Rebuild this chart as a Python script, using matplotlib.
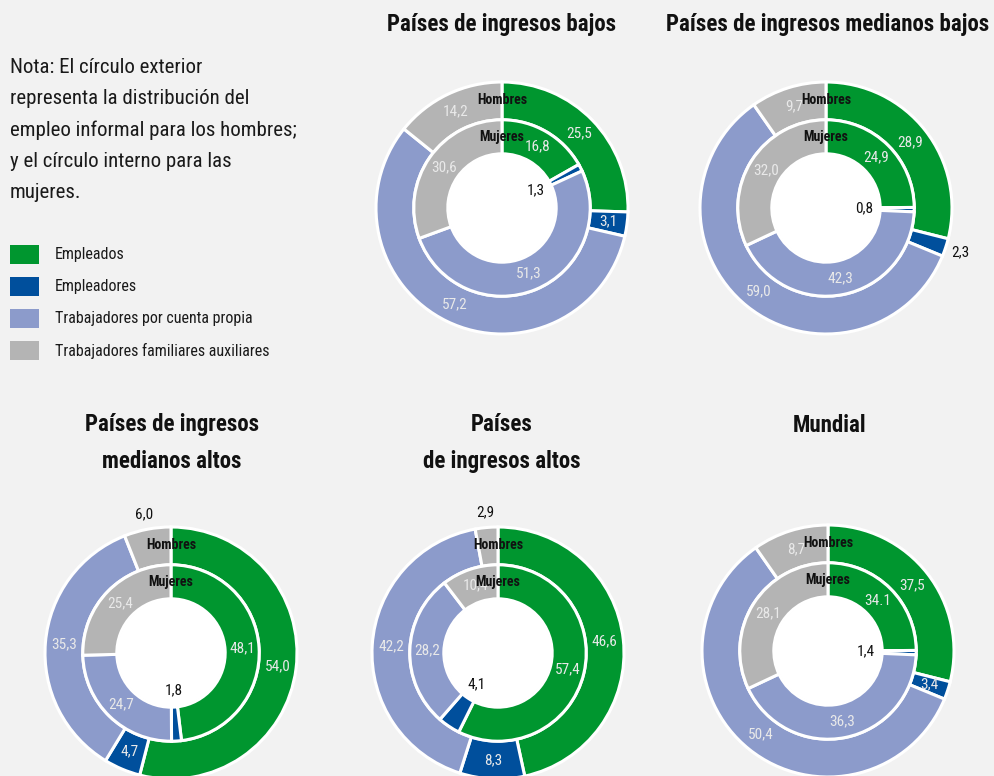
import matplotlib
matplotlib.use("Agg")
import numpy as np
import matplotlib.pyplot as plt
from matplotlib.patches import Rectangle

# ---------------- data ----------------
categories = ["Empleados", "Empleadores", "Trabajadores por cuenta propia",
              "Trabajadores familiares auxiliares"]

titles = ["Países de ingresos bajos",
          "Países de ingresos medianos bajos",
          "Países de ingresos\nmedianos altos",
          "Países\nde ingresos altos",
          "Mundial"]

# shares (%) as drawn: outer ring = Hombres, inner ring = Mujeres
bajos_hombres = [25.5, 3.1, 57.2, 14.2]
bajos_mujeres = [16.8, 1.3, 51.3, 30.6]
medbajos_hombres = [28.9, 2.3, 59.0, 9.7]
medbajos_mujeres = [24.9, 0.8, 42.3, 32.0]
medaltos_hombres = [54.0, 4.7, 35.3, 6.0]
medaltos_mujeres = [48.1, 1.8, 24.7, 25.4]
altos_hombres = [46.6, 8.3, 42.2, 2.9]
altos_mujeres = [57.4, 4.1, 28.2, 10.4]
# the world donut in the reference is drawn with these slice sizes
mundial_hombres = [28.9, 2.3, 59.0, 9.7]
mundial_mujeres = [24.9, 0.8, 42.3, 32.0]

# printed labels
bajos_hombres_lbl = ["25,5", "3,1", "57,2", "14,2"]
bajos_mujeres_lbl = ["16,8", "1,3", "51,3", "30,6"]
medbajos_hombres_lbl = ["28,9", "2,3", "59,0", "9,7"]
medbajos_mujeres_lbl = ["24,9", "0,8", "42,3", "32,0"]
medaltos_hombres_lbl = ["54,0", "4,7", "35,3", "6,0"]
medaltos_mujeres_lbl = ["48,1", "1,8", "24,7", "25,4"]
altos_hombres_lbl = ["46,6", "8,3", "42,2", "2,9"]
altos_mujeres_lbl = ["57,4", "4,1", "28,2", "10,4"]
mundial_hombres_lbl = ["37,5", "3,4", "50,4", "8,7"]
mundial_mujeres_lbl = ["34.1", "1,4", "36,3", "28,1"]

note = ("Nota: El círculo exterior\nrepresenta la distribución del\n"
        "empleo informal para los hombres;\ny el círculo interno para las\nmujeres.")

# ---------------- style ----------------
COLORS = ["#00962f", "#004f9c", "#8c9bcb", "#b4b4b4"]
BG = "#f2f2f2"
LBL_LIGHT = "#e9e9e9"
FONT = ["Roboto Condensed", "IBM Plex Sans Condensed", "DejaVu Sans"]
plt.rcParams["font.family"] = FONT

W, H = 995, 776
R_PX = 126.0
R_MID = 0.70
R_HOLE = 0.43
LIM = 1.3

# label placement: 'in' ring middle (light), 'hole' inside hole (dark), 'out' outside (dark)
place = [
    (["in", "in", "in", "in"], ["in", "hole", "in", "in"]),
    (["in", "out", "in", "in"], ["in", "hole", "in", "in"]),
    (["in", "in", "in", "out"], ["in", "hole", "in", "in"]),
    (["in", "in", "in", "out"], ["in", "hole", "in", "in"]),
    (["in", "in", "in", "in"], ["in", "hole", "in", "in"]),
]
centers = [(502, 208), (826, 208), (171, 653), (498, 653), (828, 651)]
title_pos = [(502, 25), (828, 25), (172, 443), (502, 443), (830, 425)]

charts = [
    (bajos_hombres, bajos_mujeres, bajos_hombres_lbl, bajos_mujeres_lbl),
    (medbajos_hombres, medbajos_mujeres, medbajos_hombres_lbl, medbajos_mujeres_lbl),
    (medaltos_hombres, medaltos_mujeres, medaltos_hombres_lbl, medaltos_mujeres_lbl),
    (altos_hombres, altos_mujeres, altos_hombres_lbl, altos_mujeres_lbl),
    (mundial_hombres, mundial_mujeres, mundial_hombres_lbl, mundial_mujeres_lbl),
]

fig = plt.figure(figsize=(W / 100, H / 100), dpi=100, facecolor=BG)

S = 2 * LIM * R_PX


def label_ring(ax, wedges, labels, modes, r_in, r_out):
    for w, lab, mode in zip(wedges, labels, modes):
        ang = np.deg2rad((w.theta1 + w.theta2) / 2)
        if mode == "in":
            r, col = (r_in + r_out) / 2, LBL_LIGHT
        elif mode == "hole":
            r, col = 0.30, "#111111"
        else:
            r, col = 1.12, "#111111"
        ax.text(r * np.cos(ang), r * np.sin(ang), lab, ha="center", va="center",
                fontsize=11, color=col)


for i, (hom, muj, hl, ml) in enumerate(charts):
    cx, cy = centers[i]
    ax = fig.add_axes([(cx - S / 2) / W, 1 - (cy + S / 2) / H, S / W, S / H])
    ax.set_facecolor("none")
    wp = dict(edgecolor="white", linewidth=2.2)
    wo, _ = ax.pie(hom, radius=1.0, startangle=90, counterclock=False, colors=COLORS,
                   wedgeprops=dict(width=1.0 - R_MID, **wp))
    wi, _ = ax.pie(muj, radius=R_MID, startangle=90, counterclock=False, colors=COLORS,
                   wedgeprops=dict(width=R_MID - R_HOLE, **wp))
    ax.add_patch(plt.Circle((0, 0), R_HOLE - 0.005, color="white", zorder=0))
    label_ring(ax, wo, hl, place[i][0], R_MID, 1.0)
    label_ring(ax, wi, ml, place[i][1], R_HOLE, R_MID)
    ax.text(0, (1.0 + R_MID) / 2 + 0.005, "Hombres", ha="center", va="center",
            fontsize=10, fontweight="bold", color="#111111")
    ax.text(0, (R_MID + R_HOLE) / 2, "Mujeres", ha="center", va="center",
            fontsize=10, fontweight="bold", color="#111111")
    ax.set_xlim(-LIM, LIM)
    ax.set_ylim(-LIM, LIM)
    ax.set_aspect("equal")
    ax.axis("off")

    tx, ty = title_pos[i]
    fig.text(tx / W, 1 - ty / H, titles[i], ha="center", va="center", fontsize=16.5,
             fontweight="bold", color="#111111", linespacing=1.75)

# note
fig.text(10 / W, 1 - 58 / H, note, ha="left", va="top", fontsize=15,
         color="#1a1a1a", linespacing=1.8)

# legend
leg_y = [255, 287, 319, 351]
for c, lab, y in zip(COLORS, categories, leg_y):
    fig.patches.append(Rectangle((10 / W, 1 - (y + 9) / H), 29 / W, 19 / H,
                                 transform=fig.transFigure, facecolor=c,
                                 edgecolor="none"))
    fig.text(55 / W, 1 - y / H, lab, ha="left", va="center", fontsize=11.5,
             color="#1a1a1a")

fig.savefig("out.png", dpi=100, facecolor=BG)
